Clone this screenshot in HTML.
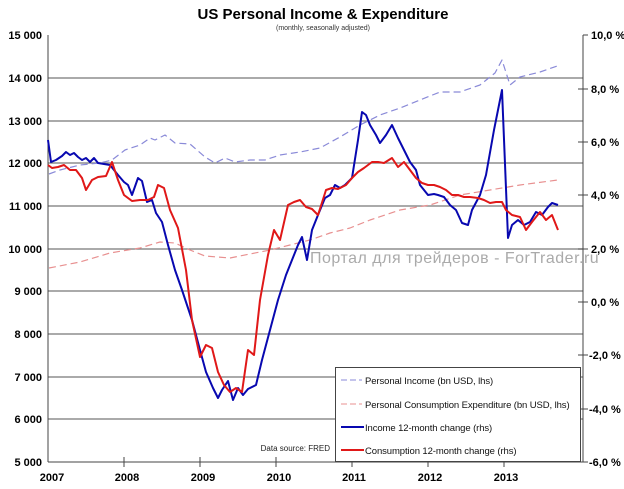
<!DOCTYPE html>
<html><head><meta charset="utf-8"><style>
body{margin:0;background:#fff;}
svg{display:block;font-family:"Liberation Sans",Arial,sans-serif;}
</style></head><body>
<svg width="624" height="489" viewBox="0 0 624 489">
<rect width="624" height="489" fill="#fff"/>
<text x="323" y="19" text-anchor="middle" font-size="15" font-weight="bold">US Personal Income &amp; Expenditure</text>
<text x="323" y="30" text-anchor="middle" font-size="7" fill="#333">(monthly, seasonally adjusted)</text>
<g stroke="#777" stroke-width="1.2">
<line x1="48" y1="78" x2="583" y2="78"/><line x1="48" y1="121" x2="583" y2="121"/><line x1="48" y1="163" x2="583" y2="163"/>
<line x1="48" y1="206" x2="583" y2="206"/><line x1="48" y1="249" x2="583" y2="249"/><line x1="48" y1="291" x2="583" y2="291"/>
<line x1="48" y1="334" x2="583" y2="334"/><line x1="48" y1="377" x2="583" y2="377"/><line x1="48" y1="419" x2="583" y2="419"/>
</g>
<g stroke="#444" stroke-width="1">
<line x1="48" y1="35" x2="48" y2="462"/><line x1="583" y1="35" x2="583" y2="462"/><line x1="48" y1="462" x2="583" y2="462"/>
<line x1="583" y1="35" x2="588" y2="35"/><line x1="578" y1="89" x2="588" y2="89"/><line x1="578" y1="142" x2="588" y2="142"/><line x1="578" y1="195" x2="588" y2="195"/><line x1="578" y1="249" x2="588" y2="249"/><line x1="578" y1="302" x2="588" y2="302"/><line x1="578" y1="355" x2="588" y2="355"/><line x1="578" y1="409" x2="588" y2="409"/><line x1="578" y1="462" x2="588" y2="462"/>
<line x1="124" y1="457" x2="124" y2="467"/><line x1="200" y1="457" x2="200" y2="467"/><line x1="276" y1="457" x2="276" y2="467"/><line x1="352" y1="457" x2="352" y2="467"/><line x1="428" y1="457" x2="428" y2="467"/><line x1="504" y1="457" x2="504" y2="467"/>
</g>
<g font-size="11" font-weight="bold" text-anchor="end">
<text x="42" y="39">15 000</text><text x="42" y="82">14 000</text><text x="42" y="125">13 000</text><text x="42" y="167">12 000</text><text x="42" y="210">11 000</text><text x="42" y="253">10 000</text><text x="42" y="295">9 000</text><text x="42" y="338">8 000</text><text x="42" y="381">7 000</text><text x="42" y="423">6 000</text><text x="42" y="466">5 000</text>
</g>
<g font-size="11" font-weight="bold">
<text x="591" y="39">10,0 %</text><text x="591" y="93">8,0 %</text><text x="591" y="146">6,0 %</text><text x="591" y="199">4,0 %</text><text x="591" y="253">2,0 %</text><text x="591" y="306">0,0 %</text><text x="589" y="359">-2,0 %</text><text x="589" y="413">-4,0 %</text><text x="589" y="466">-6,0 %</text>
</g>
<g font-size="11" font-weight="bold" text-anchor="middle">
<text x="52" y="481">2007</text><text x="127" y="481">2008</text><text x="203" y="481">2009</text><text x="279" y="481">2010</text><text x="354" y="481">2011</text><text x="430" y="481">2012</text><text x="506" y="481">2013</text>
</g>
<text x="310" y="263" font-size="16" fill="#aaa" letter-spacing="0.5">Портал для трейдеров - ForTrader.ru</text>
<g fill="none" stroke-linejoin="round">
<polyline stroke="#8a8ad8" stroke-width="1.2" stroke-dasharray="7,4" points="49,174 60,170 80,165 100,163 112,160 125,150 140,145 150,138 155,140 165,135 175,143 190,144 205,157 215,163 225,158 235,162 250,160 265,160 280,155 300,152 320,148 340,137 360,125 380,115 400,108 420,100 440,92 460,92 480,85 495,73 502,60 510,85 520,77 540,72 560,65"/>
<polyline stroke="#e89090" stroke-width="1.2" stroke-dasharray="7,4" points="49,268 80,262 110,253 140,248 160,242 175,243 190,250 205,256 230,258 250,254 270,250 290,245 310,240 330,233 350,228 370,220 400,210 430,205 460,195 490,190 520,185 558,180"/>
<polyline stroke="#0808b0" stroke-width="2" points="48,140 51,162 56,160 62,156 66,152 70,155 74,153 78,157 82,160 86,158 90,162 94,158 98,163 104,164 110,165 118,175 124,182 128,185 132,195 138,178 142,181 147,202 152,200 156,213 162,222 168,245 175,270 182,290 192,320 200,350 206,372 213,388 218,398 222,390 228,381 233,400 238,388 243,395 248,389 256,385 262,360 270,330 278,300 286,275 292,260 298,245 302,237 307,260 312,230 318,215 325,198 330,195 335,185 340,188 345,185 352,178 358,140 362,112 366,115 370,125 376,135 380,143 386,135 392,125 398,138 404,150 410,162 416,170 420,185 428,195 434,194 438,195 444,197 450,205 456,210 462,223 468,225 472,210 480,195 486,175 494,130 502,90 508,238 512,225 518,220 524,225 530,222 536,212 542,215 548,207 552,203 558,205"/>
<polyline stroke="#e01818" stroke-width="2" points="48,165 52,168 58,167 64,165 70,170 76,170 82,178 86,190 92,180 98,177 106,176 112,162 118,180 124,195 132,201 140,200 148,200 154,197 158,185 164,188 170,210 178,228 186,270 192,320 200,357 206,345 212,348 218,372 224,385 230,392 236,388 242,392 248,350 254,355 260,300 268,255 274,230 280,240 288,205 294,202 300,200 306,207 312,209 318,215 326,190 332,188 338,189 346,185 352,178 358,172 364,168 372,162 378,162 384,163 392,158 398,167 404,162 410,170 416,178 422,183 428,185 434,185 440,187 446,190 452,195 458,195 464,197 470,197 478,198 484,200 490,203 496,202 502,202 506,210 512,215 520,217 526,230 532,222 540,212 546,220 552,215 558,230"/>
</g>
<text x="330" y="451" font-size="8" text-anchor="end" fill="#222">Data source: FRED</text>
<rect x="335.5" y="367.5" width="245" height="94" fill="#fff" stroke="#444"/>
<g font-size="9.5" fill="#111" letter-spacing="-0.1">
<line x1="341" y1="380" x2="362" y2="380" stroke="#8a8ad8" stroke-dasharray="6,3"/><text x="365" y="384">Personal Income (bn USD, lhs)</text>
<line x1="341" y1="404" x2="362" y2="404" stroke="#e89090" stroke-dasharray="6,3"/><text x="365" y="408">Personal Consumption Expenditure (bn USD, lhs)</text>
<line x1="341" y1="427" x2="364" y2="427" stroke="#0808b0" stroke-width="2"/><text x="365" y="431">Income 12-month change (rhs)</text>
<line x1="341" y1="450" x2="364" y2="450" stroke="#e01818" stroke-width="2"/><text x="365" y="454">Consumption 12-month change (rhs)</text>
</g>
</svg>
</body></html>
